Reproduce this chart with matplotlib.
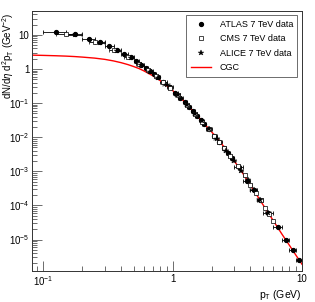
import matplotlib
matplotlib.use("Agg")
import matplotlib.pyplot as plt
import numpy as np
from matplotlib.lines import Line2D
from matplotlib.ticker import LogLocator, FuncFormatter, NullFormatter

plt.rcParams['font.family'] = ['Liberation Sans', 'DejaVu Sans']
plt.rcParams['mathtext.fontset'] = 'custom'
plt.rcParams['mathtext.rm'] = 'Liberation Sans'
plt.rcParams['mathtext.it'] = 'Liberation Sans:italic'

# ATLAS 7 TeV
atlas_pt = [0.125, 0.175, 0.225, 0.275, 0.325, 0.375, 0.425, 0.475, 0.525, 0.575,
            0.625, 0.675, 0.725, 0.775, 0.85, 0.95, 1.05, 1.15, 1.25, 1.35,
            1.45, 1.55, 1.65, 1.75, 1.9, 2.1, 2.3, 2.5, 2.7, 2.9,
            3.25, 3.75, 4.25, 4.75, 5.5, 6.5, 7.5, 8.5, 9.5]
atlas_dpt = [0.025] * 14 + [0.05] * 10 + [0.1] * 6 + [0.25] * 4 + [0.5] * 5
atlas_val = [12.3, 10.5, 7.8, 6.2, 4.6, 3.5, 2.8, 2.2, 1.7, 1.35,
             1.08, 0.86, 0.70, 0.57, 0.42, 0.29, 0.20, 0.145, 0.105, 0.077,
             0.057, 0.043, 0.033, 0.025, 0.0175, 0.011, 0.0072, 0.0049, 0.0034, 0.0024,
             1.35e-3, 5.3e-4, 2.9e-4, 1.45e-4, 6.2e-5, 2.3e-5, 1.0e-5, 4.8e-6, 2.5e-6]

# CMS 7 TeV
cms_pt = [0.15, 0.25, 0.35, 0.45, 0.55, 0.65, 0.75, 0.85, 0.95, 1.1,
          1.3, 1.5, 1.7, 1.9, 2.1, 2.3, 2.5, 2.8, 3.2, 3.6,
          4.0, 4.4, 4.8, 5.2, 5.6, 6.0]
cms_dpt = [0.025] * 9 + [0.05] * 8 + [0.1] * 9
cms_val = [10.6, 6.2, 3.6, 2.3, 1.42, 0.92, 0.61, 0.41, 0.285, 0.168,
           0.089, 0.049, 0.0285, 0.0172, 0.0108, 0.0071, 0.0048, 0.0029, 1.48e-3, 7.8e-4,
           4.1e-4, 2.3e-4, 1.4e-4, 8.6e-5, 5.5e-5, 3.6e-5]

# ALICE 7 TeV
alice_pt = [0.175, 0.275, 0.375, 0.475, 0.575, 0.675, 0.775, 0.9, 1.1, 1.3,
            1.5, 1.7, 1.9, 2.2, 2.6, 3.0, 3.4, 3.8, 4.25, 4.75, 5.5]
alice_dpt = [0.025] * 7 + [0.05] * 6 + [0.1] * 5 + [0.25] * 3
alice_val = [9.8, 5.8, 3.3, 2.1, 1.3, 0.84, 0.56, 0.35, 0.17, 0.089,
             0.049, 0.029, 0.0172, 0.0090, 0.0040, 0.0020, 1.05e-3, 5.6e-4, 2.9e-4, 1.45e-4, 6.1e-5]

# CGC curve
cgc_pt = [0.08, 0.1, 0.125, 0.15, 0.175, 0.2, 0.25, 0.3, 0.35, 0.4, 0.45, 0.5, 0.55,
          0.6, 0.7, 0.8, 0.9, 1.0, 1.2, 1.4, 1.6, 1.8, 2.0, 2.25, 2.5, 3.0, 3.4,
          4.0, 5.0, 6.0, 7.0, 8.0, 9.0, 10.0]
cgc_val = [2.55, 2.50, 2.44, 2.38, 2.31, 2.23, 2.08, 1.91, 1.72, 1.53, 1.35, 1.18, 1.03,
           0.88, 0.64, 0.46, 0.33, 0.235, 0.122, 0.066, 0.038, 0.0225, 0.0145, 0.0085, 0.0052,
           0.0020, 1.02e-3, 3.9e-4, 1.05e-4, 3.6e-5, 1.45e-5, 6.8e-6, 3.45e-6, 1.9e-6]

fig = plt.figure(figsize=(3.15, 3.02), dpi=100)
ax = fig.add_axes([0.1016, 0.1026, 0.857, 0.861])

ebkw = dict(ls='none', ecolor='black', elinewidth=0.6, capsize=1.2, capthick=0.6)
ax.errorbar(atlas_pt, atlas_val, xerr=atlas_dpt, marker='o', ms=2.8, mfc='black',
            mec='black', **ebkw)
ax.errorbar(cms_pt, cms_val, xerr=cms_dpt, marker='s', ms=2.6, mfc='white',
            mec='black', mew=0.5, **ebkw)
ax.errorbar(alice_pt, alice_val, xerr=alice_dpt, marker='*', ms=4, mfc='black',
            mec='black', mew=0.3, **ebkw)
ax.plot(cgc_pt, cgc_val, color='red', lw=1.0)

ax.set_xscale('log')
ax.set_yscale('log')
ax.set_xlim(0.082, 10)
ax.set_ylim(1.2e-6, 50)


def fmt(v, pos):
    e = int(round(np.log10(v)))
    if e == 0:
        return '1'
    if e == 1:
        return '10'
    return r'$10^{%d}$' % e


ax.xaxis.set_major_locator(LogLocator(base=10, numticks=10))
ax.yaxis.set_major_locator(LogLocator(base=10, numticks=12))
ax.xaxis.set_major_formatter(FuncFormatter(fmt))
ax.yaxis.set_major_formatter(FuncFormatter(fmt))
ax.xaxis.set_minor_formatter(NullFormatter())
ax.yaxis.set_minor_formatter(NullFormatter())
ax.tick_params(which='both', direction='in', top=False, right=False,
               labelsize=7, width=0.6, color='#555555')
ax.tick_params(which='major', length=7)
ax.tick_params(axis='y', which='major', pad=2)
ax.tick_params(axis='x', which='major', pad=2)
ax.tick_params(which='minor', length=3.5)
for s in ax.spines.values():
    s.set_linewidth(0.7)
    s.set_color('#333333')

ax.set_xlabel(r'p$_{\rm T}$ (GeV)', fontsize=7.5, loc='right')
ax.xaxis.set_label_coords(1.0, -0.065)
ax.set_ylabel(r'dN/d$\eta$ d$^{2}$p$_{\rm T}$ (GeV$^{-2}$)', fontsize=7.0, loc='top')
ax.yaxis.set_label_coords(-0.060, 0.995)

handles = [
    Line2D([], [], ls='none', marker='o', ms=2.8, mfc='black', mec='black'),
    Line2D([], [], ls='none', marker='s', ms=2.6, mfc='white', mec='black', mew=0.5),
    Line2D([], [], ls='none', marker='*', ms=4, mfc='black', mec='black', mew=0.3),
    Line2D([], [], color='red', lw=1.0),
]
labels = ['ATLAS 7 TeV data', 'CMS 7 TeV data', 'ALICE 7 TeV data', 'CGC']
leg = ax.legend(handles, labels, loc='upper right', bbox_to_anchor=(0.99, 0.99), fontsize=6.5,
                frameon=True, fancybox=False, edgecolor='#555555', framealpha=1,
                handlelength=2.3, borderpad=0.5, labelspacing=0.6, handletextpad=0.9,
                borderaxespad=0.2)
leg.get_frame().set_linewidth(0.6)

fig.savefig('out.png', dpi=100)
